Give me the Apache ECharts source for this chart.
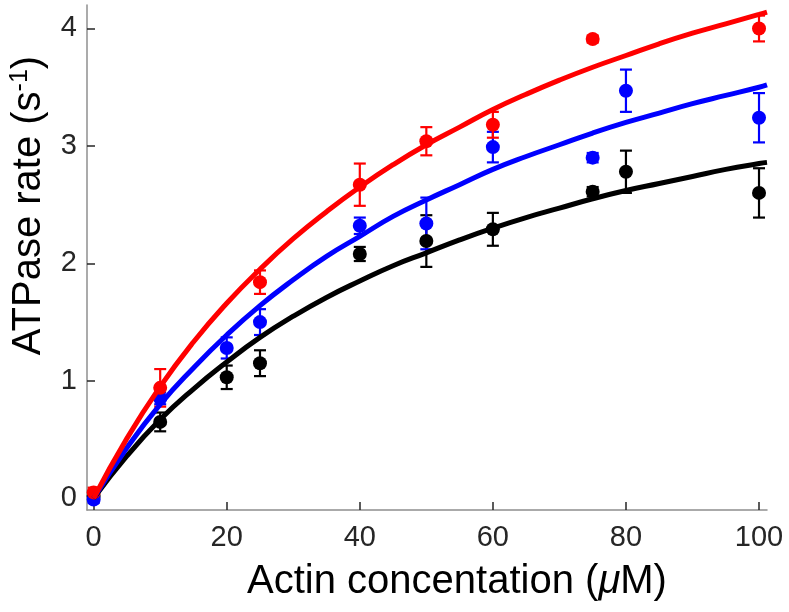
<!DOCTYPE html>
<html>
<head>
<meta charset="utf-8">
<script src="https://cdn.jsdelivr.net/npm/echarts@6/dist/echarts.min.js"></script>
<style>html,body{margin:0;padding:0;background:#fff;}#c{width:789px;height:612px;}</style>
</head>
<body>
<div id="c"></div>
<script>
// ---- data ----
var xTicks = [0, 20, 40, 60, 80, 100];
var yTicks = [0, 1, 2, 3, 4];

var redX = [0, 10, 25, 40, 50, 60, 75, 100];
var redY = [0.05, 0.94, 1.84, 2.67, 3.04, 3.18, 3.91, 4.00];
var redErr = [0.04, 0.16, 0.10, 0.18, 0.12, 0.11, 0.03, 0.11];

var blueX = [0, 10, 20, 25, 40, 50, 60, 75, 80, 100];
var blueY = [-0.01, 0.85, 1.28, 1.50, 2.32, 2.34, 2.99, 2.90, 3.47, 3.24];
var blueErr = [0.03, 0.05, 0.09, 0.11, 0.07, 0.22, 0.13, 0.04, 0.18, 0.21];

var blackX = [0, 10, 20, 25, 40, 50, 60, 75, 80, 100];
var blackY = [0.02, 0.65, 1.03, 1.15, 2.08, 2.19, 2.29, 2.61, 2.78, 2.60];
var blackErr = [0.03, 0.08, 0.10, 0.11, 0.06, 0.22, 0.14, 0.04, 0.18, 0.21];

// fitted curves, read at regular x positions
var curveX = [0, 5, 10, 15, 20, 25, 30, 35, 40, 45, 50, 55, 60, 65, 70, 75, 80, 85, 90, 95, 100, 101.2];
var redCurve = [0, 0.51, 0.95, 1.33, 1.66, 1.95, 2.21, 2.44, 2.65, 2.84, 3.01, 3.16, 3.31, 3.44, 3.56, 3.67, 3.77, 3.87, 3.96, 4.04, 4.12, 4.14];
var blueCurve = [0, 0.43, 0.80, 1.11, 1.39, 1.64, 1.86, 2.06, 2.23, 2.40, 2.54, 2.67, 2.80, 2.91, 3.01, 3.11, 3.20, 3.28, 3.36, 3.43, 3.50, 3.52];
var blackCurve = [0, 0.36, 0.67, 0.93, 1.16, 1.37, 1.55, 1.71, 1.85, 1.98, 2.09, 2.20, 2.30, 2.39, 2.47, 2.55, 2.62, 2.68, 2.74, 2.80, 2.85, 2.86];

// ---- build chart ----
var FONT = 'Liberation Sans, Arial, Helvetica, sans-serif';
var TXT = '#262626';

function zip3(xs, ys, es) { return xs.map(function (x, i) { return [x, ys[i], es[i]]; }); }
function zip2(xs, ys) { return xs.map(function (x, i) { return [x, ys[i]]; }); }

function errSeries(color, data) {
  return {
    type: 'custom',
    data: data,
    encode: { x: 0, y: 1 },
    renderItem: function (params, api) {
      var x = api.value(0), y = api.value(1), e = api.value(2);
      var top = api.coord([x, y + e]);
      var bot = api.coord([x, y - e]);
      var h = 6;
      var st = { stroke: color, lineWidth: 2.2 };
      return {
        type: 'group',
        children: [
          { type: 'line', shape: { x1: top[0], y1: top[1], x2: bot[0], y2: bot[1] }, style: st },
          { type: 'line', shape: { x1: top[0] - h, y1: top[1], x2: top[0] + h, y2: top[1] }, style: st },
          { type: 'line', shape: { x1: bot[0] - h, y1: bot[1], x2: bot[0] + h, y2: bot[1] }, style: st }
        ]
      };
    },
    silent: true
  };
}
function ptSeries(color, data) {
  return { type: 'scatter', data: data, symbol: 'circle', symbolSize: 14, itemStyle: { color: color, opacity: 1 }, silent: true };
}
function curveSeries(color, data) {
  return { type: 'line', data: data, smooth: true, showSymbol: false, symbol: 'none', lineStyle: { color: color, width: 5 }, silent: true };
}

var chart = echarts.init(document.getElementById('c'), null, { renderer: 'canvas' });
chart.setOption({
  animation: false,
  backgroundColor: '#ffffff',
  grid: { left: 86, right: 22, top: 5, bottom: 102, containLabel: false },
  xAxis: {
    type: 'value', min: -1, max: 101.2,
    name: 'Actin concentation ({it|μ}M)',
    nameLocation: 'middle', nameGap: 52,
    nameTextStyle: { fontFamily: FONT, fontSize: 40, color: '#000', padding: [0, 0, 0, 60],
      rich: { it: { fontFamily: FONT, fontSize: 40, fontStyle: 'italic', color: '#000' } } },
    axisLine: { show: true, onZero: false, lineStyle: { color: '#8f8f8f', width: 1.5 } },
    axisTick: { show: true, inside: true, length: 8, customValues: xTicks, lineStyle: { color: '#262626', width: 1.5 } },
    axisLabel: { customValues: xTicks, fontFamily: FONT, fontSize: 29, color: TXT, margin: 13 },
    splitLine: { show: false }
  },
  yAxis: {
    type: 'value', min: -0.1, max: 4.2,
    name: 'ATPase rate (s{sup|-1})',
    nameLocation: 'middle', nameGap: 38, nameRotate: 90,
    nameTextStyle: { fontFamily: FONT, fontSize: 40, color: '#000', padding: [0, 0, 0, 104],
      rich: { sup: { fontFamily: FONT, fontSize: 25, color: '#000', verticalAlign: 'top', padding: [0, 0, 16, 0] } } },
    axisLine: { show: true, onZero: false, lineStyle: { color: '#8f8f8f', width: 1.5 } },
    axisTick: { show: true, inside: true, length: 8, customValues: yTicks, lineStyle: { color: '#262626', width: 1.5 } },
    axisLabel: { customValues: yTicks, fontFamily: FONT, fontSize: 29, color: TXT, margin: 10 },
    splitLine: { show: false }
  },
  series: [
    errSeries('#000000', zip3(blackX, blackY, blackErr)),
    ptSeries('#000000', zip2(blackX, blackY)),
    curveSeries('#000000', zip2(curveX, blackCurve)),
    errSeries('#0000ff', zip3(blueX, blueY, blueErr)),
    ptSeries('#0000ff', zip2(blueX, blueY)),
    curveSeries('#0000ff', zip2(curveX, blueCurve)),
    errSeries('#ff0000', zip3(redX, redY, redErr)),
    ptSeries('#ff0000', zip2(redX, redY)),
    curveSeries('#ff0000', zip2(curveX, redCurve))
  ]
});
</script>
</body>
</html>
